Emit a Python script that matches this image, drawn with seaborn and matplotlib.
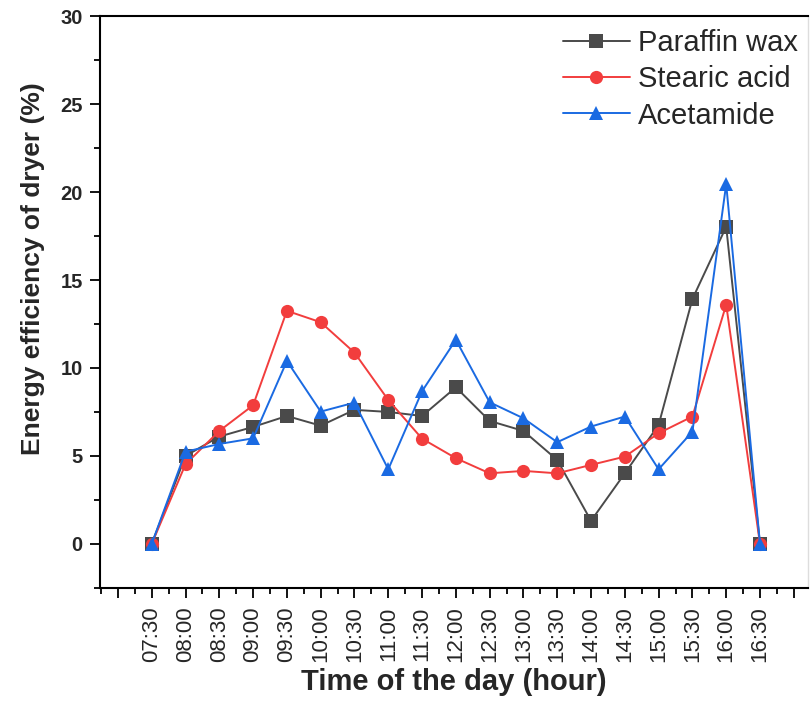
import numpy as np
import pandas as pd
import matplotlib
matplotlib.use("Agg")
import matplotlib.pyplot as plt
from matplotlib.ticker import FixedLocator, MultipleLocator
import seaborn as sns

# Time of day in decimal hours (07:30 ... 16:30)
hours = [7.5, 8.0, 8.5, 9.0, 9.5, 10.0, 10.5, 11.0, 11.5, 12.0,
         12.5, 13.0, 13.5, 14.0, 14.5, 15.0, 15.5, 16.0, 16.5]

paraffin_wax = [0.0, 5.0, 6.1, 6.65, 7.27, 6.72, 7.62, 7.5, 7.27, 8.9,
                6.99, 6.42, 4.77, 1.31, 4.01, 6.76, 13.92, 18.03, 0.0]
stearic_acid = [0.0, 4.53, 6.42, 7.88, 13.25, 12.6, 10.87, 8.18, 5.98, 4.87,
                4.01, 4.15, 4.01, 4.49, 4.96, 6.29, 7.24, 13.6, 0.0]
acetamide = [0.0, 5.24, 5.68, 6.0, 10.4, 7.52, 8.03, 4.24, 8.68, 11.6,
             8.05, 7.14, 5.78, 6.67, 7.24, 4.24, 6.38, 20.45, 0.0]

series_names = ["Paraffin wax", "Stearic acid", "Acetamide"]
series_colors = ["#4a4a4a", "#f23d3d", "#1a6ae2"]
series_markers = ["s", "o", "^"]

tick_hours = np.arange(7.0, 17.01, 0.5)
tick_labels = ["" if h in (7.0, 17.0) else f"{int(h):02d}:{int(round((h % 1) * 60)):02d}"
               for h in tick_hours]

df = pd.DataFrame({
    "hour": hours * 3,
    "efficiency": paraffin_wax + stearic_acid + acetamide,
    "material": sum([[n] * len(hours) for n in series_names], []),
})

sns.set_style("ticks")
plt.rcParams["font.family"] = ["Liberation Sans", "DejaVu Sans"]

fig = plt.figure(figsize=(8.10, 7.04), dpi=100)
ax = fig.add_axes([0.1235, 0.165, 0.874, 0.812])

for name, color, marker in zip(series_names, series_colors, series_markers):
    sub = df[df["material"] == name]
    sns.lineplot(data=sub, x="hour", y="efficiency", ax=ax, color=color,
                 marker=marker, markersize=10.5 if marker == "^" else 9.5,
                 markeredgewidth=0, linewidth=1.4, label=name)

ax.set_xlim(6.735, 17.21)
ax.set_ylim(-2.5, 30)

ax.xaxis.set_major_locator(FixedLocator(tick_hours))
ax.set_xticklabels(tick_labels, rotation=90, fontsize=16)
ax.xaxis.set_minor_locator(MultipleLocator(0.25))
ax.yaxis.set_major_locator(FixedLocator([0, 5, 10, 15, 20, 25, 30]))
ax.yaxis.set_minor_locator(FixedLocator([-2.5, 2.5, 7.5, 12.5, 17.5, 22.5, 27.5]))
for lbl in ax.get_yticklabels():
    lbl.set_fontweight("bold")
    lbl.set_fontsize(14.5)

ax.tick_params(axis="both", which="major", direction="out", length=7.5, width=1.3,
               color="black")
ax.tick_params(axis="both", which="minor", direction="out", length=4, width=1.3,
               color="black")
ax.tick_params(axis="x", which="major", pad=6)
ax.tick_params(axis="y", which="major", pad=5)

for side in ["left", "bottom", "top"]:
    ax.spines[side].set_linewidth(1.5)
    ax.spines[side].set_color("black")
ax.spines["right"].set_color("#dddddd")
ax.spines["right"].set_linewidth(1.0)

ax.set_xlabel("Time of the day (hour)", fontsize=21, fontweight="bold")
ax.set_ylabel("Energy efficiency of dryer (%)", fontsize=19, fontweight="bold")
ax.xaxis.set_label_coords(0.5, -0.14)
ax.yaxis.set_label_coords(-0.078, 0.5585)

ax.legend(loc="upper right", frameon=False, fontsize=21, handlelength=2.3,
          handletextpad=0.3, labelspacing=0.28, borderaxespad=0.0,
          bbox_to_anchor=(1.0, 0.975), bbox_transform=fig.transFigure)

fig.savefig("out.png", dpi=100)
